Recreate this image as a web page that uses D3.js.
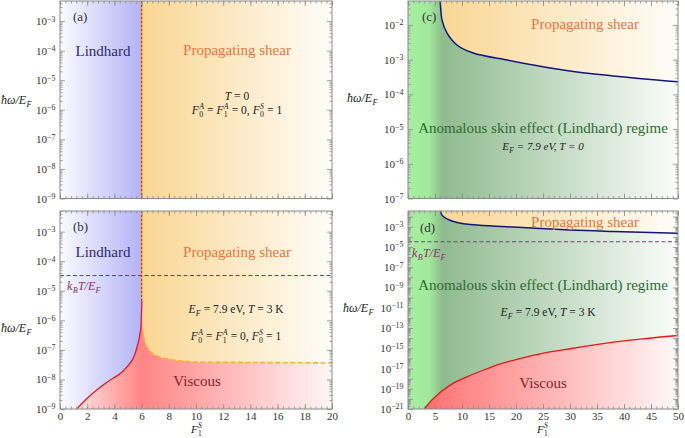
<!DOCTYPE html>
<html><head><meta charset="utf-8">
<script src="https://cdn.jsdelivr.net/npm/d3@7"></script>
<style>
body{margin:0;background:#fff}
svg{display:block}
text{white-space:pre}
</style>
</head><body>
<svg id="c" width="685" height="438"></svg>
<script>
// ================= DATA =================
const xMajorLeft = [0, 2, 4, 6, 8, 10, 12, 14, 16, 18, 20];
const xMajorRight = [0, 5, 10, 15, 20, 25, 30, 35, 40, 45, 50];
const yExpAB = [-3, -4, -5, -6, -7, -8, -9];
const yExpC = [-2, -3, -4, -5, -6, -7];
const yExpDLabeled = [-3, -5, -7, -9, -11, -13, -15, -17, -19, -21];
const yExpDUnlabeled = [-2, -4, -6, -8, -10, -12, -14, -16, -18, -20];

const shearOnsetF = 6;          // F1S where propagating shear starts
const kTOverEF = 3.27e-5;       // k_B T / E_F  (T = 3 K, E_F = 7.9 eV)

// panel (b): Lindhard / viscous boundary (red)
const bLindF = [1.23, 2.12, 3.35, 4.57, 5.31, 5.68, 5.92, 5.99, 6.02, 6.0];
const bLindW = [1.0e-9, 2.6e-9, 7.4e-9, 1.8e-8, 4.5e-8, 1.3e-7, 4.6e-7, 1.7e-6, 4.7e-6, 5e-3];
// panel (b): shear / viscous boundary (yellow dashed)
const bShearF = [6.0, 6.03, 6.09, 6.29, 6.78, 7.76, 9.47, 12.7, 16, 20];
const bShearW = [5e-3, 1e-5, 4.6e-7, 1.6e-7, 7.6e-8, 5.1e-8, 4.0e-8, 3.8e-8, 3.7e-8, 3.6e-8];
// panels (c),(d): shear / Lindhard boundary (blue)
const cdShearF = [5.95, 6.1, 6.29, 7.21, 9.06, 12.08, 18.3, 30, 38, 50];
const cdShearW = [0.05, 2.5e-2, 1.4e-2, 5.9e-3, 2.65e-3, 1.55e-3, 9.8e-4, 4.7e-4, 3.4e-4, 2.3e-4];
// panel (d): viscous / Lindhard boundary (red)
const dViscF = [3.0, 4.7, 7.8, 10.9, 14.0, 17.1, 20.2, 24.5, 30, 36.8, 43, 50];
const dViscW = [1e-21, 1.1e-20, 2.3e-19, 1.5e-18, 7e-18, 2.8e-17, 8.1e-17, 2.8e-16, 8.9e-16, 3.2e-15, 7.9e-15, 1.8e-14];

// ================= DRAWING =================
const FONT = '"Liberation Serif", serif';
const svg = d3.select('#c').attr('font-family', FONT);
const defs = svg.append('defs');
const AX = '#8c8c8c';

function grad(id, x, xmax, stops){
  const lg = defs.append('linearGradient').attr('id', id).attr('gradientUnits','userSpaceOnUse')
    .attr('x1', x(0)).attr('x2', x(xmax)).attr('y1', 0).attr('y2', 0);
  stops.forEach(([f, c]) => lg.append('stop').attr('offset', f / xmax).attr('stop-color', c));
  return `url(#${id})`;
}
function zip(a, b){ return a.map((v, i) => [v, b[i]]); }

function txt(g, x, y, s, size, color, anchor, italic){
  return g.append('text').attr('x', x).attr('y', y).attr('font-family', FONT).attr('font-size', size)
    .attr('fill', color).attr('text-anchor', anchor || 'start')
    .attr('font-style', italic ? 'italic' : 'normal').text(s);
}

function rich(g, x, y, tokens, opt){
  const size = opt.size || 12, color = opt.color || '#222';
  const grp = g.append('g');
  let cx = 0;
  tokens.forEach(tk => {
    const t = txt(grp, cx, 0, tk.s, size, color, 'start', tk.i);
    const w = t.node().getComputedTextLength();
    let ws = 0;
    if (tk.sub !== undefined){
      const s = txt(grp, cx + w + 0.3, size * 0.28, tk.sub, size * 0.68, color, 'start', tk.subi);
      ws = Math.max(ws, s.node().getComputedTextLength() + 0.6);
    }
    if (tk.sup !== undefined){
      const s = txt(grp, cx + w + 0.3, -size * 0.4, tk.sup, size * 0.68, color, 'start', tk.supi);
      ws = Math.max(ws, s.node().getComputedTextLength() + 0.6);
    }
    cx += w + ws;
  });
  const shift = opt.anchor === 'middle' ? -cx / 2 : opt.anchor === 'end' ? -cx : 0;
  grp.attr('transform', `translate(${x + shift},${y})`);
}

function panel(p){
  const x = d3.scaleLinear().domain([0, p.xmax]).range([p.x0, p.x1]);
  const y = d3.scaleLog().domain([p.ymin, p.ymax]).range([p.y1, p.y0]);
  const g = svg.append('g');
  defs.append('clipPath').attr('id', 'clip' + p.id).append('rect')
    .attr('x', p.x0).attr('y', p.y0).attr('width', p.x1 - p.x0).attr('height', p.y1 - p.y0);
  const plot = g.append('g').attr('clip-path', `url(#clip${p.id})`);
  const line = d3.line().x(d => x(d[0])).y(d => y(d[1]));
  const curve = d3.line().x(d => x(d[0])).y(d => y(d[1])).curve(d3.curveCatmullRom.alpha(0.5));
  const pt = (a, b) => `L${x(a)},${y(b)}`;
  return {x, y, g, plot, line, curve, pt, p};
}

function axes(P, xMajor, xMinorStep, yMajorExp, yMediumExp, showX){
  const p = P.p;
  const nMin = Math.round(p.xmax / xMinorStep);
  const xMinor = d3.range(0, nMin + 1).map(i => +(i * xMinorStep).toFixed(4));
  const lo = Math.floor(Math.log10(p.ymin)), hi = Math.ceil(Math.log10(p.ymax));
  const yMinor = [];
  for (let k = lo; k <= hi; k++) for (let m = 2; m <= 9; m++){
    const v = m * Math.pow(10, k);
    if (v >= p.ymin && v <= p.ymax) yMinor.push(v);
  }
  const yMajor = yMajorExp.map(e => Math.pow(10, e));
  const yMed = yMediumExp.map(e => Math.pow(10, e)).filter(v => v <= p.ymax);
  const ax = (gen, tr) => P.g.append('g').attr('transform', tr).call(gen)
    .call(s => s.select('.domain').remove())
    .call(s => s.selectAll('line').attr('stroke', AX).attr('stroke-width', 0.8))
    .attr('font-family', FONT).attr('font-size', 11)
    .call(s => s.selectAll('text').attr('font-family', FONT).attr('fill', '#333'));
  // x axes
  ax(d3.axisBottom(P.x).tickValues(xMajor).tickSize(-5).tickPadding(3)
      .tickFormat(showX ? d3.format('d') : () => ''), `translate(0,${p.y1})`);
  ax(d3.axisBottom(P.x).tickValues(xMinor).tickSize(-2.5).tickFormat(() => ''), `translate(0,${p.y1})`);
  ax(d3.axisTop(P.x).tickValues(xMajor).tickSize(-5).tickFormat(() => ''), `translate(0,${p.y0})`);
  ax(d3.axisTop(P.x).tickValues(xMinor).tickSize(-2.5).tickFormat(() => ''), `translate(0,${p.y0})`);
  // y axes
  const yl = ax(d3.axisLeft(P.y).tickValues(yMajor).tickSize(-5).tickPadding(4.5)
      .tickFormat(() => 'x'), `translate(${p.x0},0)`);
  yl.selectAll('.tick text').each(function(d){
    const e = Math.round(Math.log10(d));
    const t = d3.select(this); t.text('');
    t.append('tspan').text('10');
    t.append('tspan').attr('dy', '-0.45em').attr('font-size', '0.72em').text('\u2212' + (-e));
  });
  ax(d3.axisLeft(P.y).tickValues(yMed).tickSize(-5).tickFormat(() => ''), `translate(${p.x0},0)`);
  ax(d3.axisLeft(P.y).tickValues(yMinor).tickSize(-2.5).tickFormat(() => ''), `translate(${p.x0},0)`);
  ax(d3.axisRight(P.y).tickValues(yMajor.concat(yMed)).tickSize(-5).tickFormat(() => ''), `translate(${p.x1},0)`);
  ax(d3.axisRight(P.y).tickValues(yMinor).tickSize(-2.5).tickFormat(() => ''), `translate(${p.x1},0)`);
  P.g.append('rect').attr('x', p.x0).attr('y', p.y0).attr('width', p.x1 - p.x0).attr('height', p.y1 - p.y0)
    .attr('fill', 'none').attr('stroke', AX).attr('stroke-width', 1);
}

const COL = {
  lind: '#2b2b70', shear: '#e8763e', visc: '#8a1f2a', anom: '#2f6a31', kt: '#8b2b72',
  blueA: '#fafaff', blueB: '#b3b3f7', orA: '#f9d693', orB: '#fffdf8',
  redMid: '#ff8585', green1: '#a6f0a0', green2: '#8fbb8f'
};
const hwEF = [{s:'\u0127\u03c9/', i:1}, {s:'E', i:1, sub:'F', subi:1}];
const FA = [{s:'F', i:1, sub:'0', sup:'A', supi:1}, {s:' = '}, {s:'F', i:1, sub:'1', sup:'A', supi:1},
            {s:' = 0, '}, {s:'F', i:1, sub:'0', sup:'S', supi:1}, {s:' = 1'}];
const kT = [{s:'k', i:1, sub:'B', subi:1}, {s:'T/', i:1}, {s:'E', i:1, sub:'F', subi:1}];
const F1S = [{s:'F', i:1, sub:'1', sup:'S', supi:1}];

// ---------- panel (a) ----------
{
  const P = panel({id:'a', x0:60, x1:332, y0:1, y1:198.5, xmax:20, ymin:1e-9, ymax:Math.pow(10, -2.32)});
  const {x, y, plot} = P;
  const gb = grad('ga_b', x, 20, [[0, COL.blueA], [shearOnsetF, COL.blueB]]);
  const go = grad('ga_o', x, 20, [[shearOnsetF, COL.orA], [20, COL.orB]]);
  plot.append('rect').attr('x', x(0)).attr('y', P.p.y0).attr('width', x(shearOnsetF) - x(0)).attr('height', P.p.y1 - P.p.y0).attr('fill', gb);
  plot.append('rect').attr('x', x(shearOnsetF)).attr('y', P.p.y0).attr('width', x(20) - x(shearOnsetF)).attr('height', P.p.y1 - P.p.y0).attr('fill', go);
  plot.append('line').attr('x1', x(shearOnsetF)).attr('x2', x(shearOnsetF)).attr('y1', P.p.y0).attr('y2', P.p.y1)
    .attr('stroke', '#f2b430').attr('stroke-width', 1.8);
  plot.append('line').attr('x1', x(shearOnsetF)).attr('x2', x(shearOnsetF)).attr('y1', P.p.y0).attr('y2', P.p.y1)
    .attr('stroke', '#e41a1a').attr('stroke-width', 1.1).attr('stroke-dasharray', '2,2');
  axes(P, xMajorLeft, 0.4, yExpAB, [], false);
  const g = P.g;
  txt(g, 73, 21, '(a)', 13, '#333');
  txt(g, 103, 56, 'Lindhard', 15, COL.lind, 'middle');
  txt(g, 237, 55, 'Propagating shear', 15, COL.shear, 'middle');
  rich(g, 237, 100, [{s:'T', i:1}, {s:' = 0'}], {size:11.5, anchor:'middle'});
  rich(g, 237, 114, FA, {size:11.5, anchor:'middle'});
  rich(g, 1, 104, hwEF, {size:12});
}

// ---------- panel (b) ----------
{
  const P = panel({id:'b', x0:60, x1:332, y0:211, y1:409, xmax:20, ymin:1e-9, ymax:5e-3});
  const {x, y, plot, line, curve, pt} = P;
  const gv = grad('gb_v', x, 20, [[0, '#ffffff'], [1.2, '#ffe4e4'], [shearOnsetF, COL.redMid], [20, '#fff6f6']]);
  const gb = grad('gb_b', x, 20, [[0, COL.blueA], [shearOnsetF, COL.blueB]]);
  const go = grad('gb_o', x, 20, [[shearOnsetF, COL.orA], [20, COL.orB]]);
  plot.append('rect').attr('x', P.p.x0).attr('y', P.p.y0).attr('width', P.p.x1 - P.p.x0).attr('height', P.p.y1 - P.p.y0).attr('fill', gv);
  const lind = zip(bLindF, bLindW);
  plot.append('path').attr('d', curve(lind) + pt(shearOnsetF, 1) + pt(0, 1) + pt(0, 1e-10) + pt(bLindF[0], 1e-10) + 'Z').attr('fill', gb);
  const sh = zip(bShearF, bShearW);
  plot.append('path').attr('d', curve(sh) + pt(20, 1) + pt(shearOnsetF, 1) + 'Z').attr('fill', go);
  // lines
  plot.append('path').attr('d', curve(sh.slice(2))).attr('fill', 'none').attr('stroke', '#f2b430')
    .attr('stroke-width', 1.6).attr('stroke-dasharray', '5,2.5');
  const vTop = [[shearOnsetF, 1], [shearOnsetF, bLindW[bLindW.length - 2]]];
  plot.append('path').attr('d', line(vTop)).attr('stroke', '#f2b430').attr('stroke-width', 1.8);
  plot.append('path').attr('d', line(vTop)).attr('stroke', '#e41a1a').attr('stroke-width', 1.1).attr('stroke-dasharray', '2,2');
  plot.append('path').attr('d', curve(lind.slice(0, -1))).attr('fill', 'none').attr('stroke', '#ee1515').attr('stroke-width', 1.3);
  plot.append('line').attr('x1', x(0)).attr('x2', x(20)).attr('y1', y(kTOverEF)).attr('y2', y(kTOverEF))
    .attr('stroke', '#7b3066').attr('stroke-width', 1).attr('stroke-dasharray', '4,2.5');
  axes(P, xMajorLeft, 0.4, yExpAB, [], true);
  const g = P.g;
  txt(g, 73, 231, '(b)', 13, '#333');
  txt(g, 103, 257, 'Lindhard', 15, COL.lind, 'middle');
  txt(g, 237, 257, 'Propagating shear', 15, COL.shear, 'middle');
  txt(g, 197, 386, 'Viscous', 15, COL.visc, 'middle');
  rich(g, 67, 290, kT, {size:12, color:COL.kt});
  rich(g, 236, 313, [{s:'E', i:1, sub:'F', subi:1}, {s:' = 7.9 eV, '}, {s:'T', i:1}, {s:' = 3 K'}], {size:11.5, anchor:'middle'});
  rich(g, 236, 340, FA, {size:11.5, anchor:'middle'});
  rich(g, 1, 332, hwEF, {size:12});
  rich(g, 191, 432.5, F1S, {size:11});
}

// ---------- panel (c) ----------
{
  const P = panel({id:'c', x0:408, x1:678, y0:1, y1:198.5, xmax:50, ymin:1e-7, ymax:Math.pow(10, -1.31)});
  const {x, y, plot, curve, pt} = P;
  const gg = grad('gc_g', x, 50, [[0, COL.green1], [4.0, '#a2e89c'], [6.3, COL.green2], [50, '#fbfdfb']]);
  const go = grad('gc_o', x, 50, [[shearOnsetF, COL.orA], [50, COL.orB]]);
  plot.append('rect').attr('x', P.p.x0).attr('y', P.p.y0).attr('width', P.p.x1 - P.p.x0).attr('height', P.p.y1 - P.p.y0).attr('fill', gg);
  const sh = zip(cdShearF, cdShearW);
  plot.append('path').attr('d', curve(sh) + pt(50, 1) + pt(cdShearF[0], 1) + 'Z').attr('fill', go);
  plot.append('path').attr('d', curve(sh)).attr('fill', 'none').attr('stroke', '#14147a').attr('stroke-width', 1.5);
  axes(P, xMajorRight, 1, yExpC, [], false);
  const g = P.g;
  txt(g, 422, 21, '(c)', 13, '#333');
  txt(g, 585, 29, 'Propagating shear', 15, COL.shear, 'middle');
  txt(g, 543, 133, 'Anomalous skin effect (Lindhard) regime', 15, COL.anom, 'middle');
  rich(g, 543, 150, [{s:'E', i:1, sub:'F', subi:1}, {s:' = 7.9 eV, ', i:1}, {s:'T', i:1}, {s:' = 0', i:1}], {size:11, anchor:'middle'});
  rich(g, 347, 102, hwEF, {size:12});
}

// ---------- panel (d) ----------
{
  const P = panel({id:'d', x0:408, x1:678, y0:211, y1:409, xmax:50, ymin:1e-21, ymax:Math.pow(10, -1.45)});
  const {x, y, plot, curve, pt} = P;
  const gg = grad('gd_g', x, 50, [[0, COL.green1], [4.0, '#a2e89c'], [6.3, COL.green2], [50, '#fbfdfb']]);
  const go = grad('gd_o', x, 50, [[shearOnsetF, COL.orA], [50, COL.orB]]);
  const gr = grad('gd_r', x, 50, [[3, '#ff6e6e'], [8, '#ff8080'], [50, '#fff8f8']]);
  plot.append('rect').attr('x', P.p.x0).attr('y', P.p.y0).attr('width', P.p.x1 - P.p.x0).attr('height', P.p.y1 - P.p.y0).attr('fill', gg);
  const sh = zip(cdShearF, cdShearW);
  plot.append('path').attr('d', curve(sh) + pt(50, 1) + pt(cdShearF[0], 1) + 'Z').attr('fill', go);
  const vc = zip(dViscF, dViscW);
  plot.append('path').attr('d', curve(vc) + pt(50, 1e-23) + pt(dViscF[0], 1e-23) + 'Z').attr('fill', gr);
  plot.append('path').attr('d', curve(sh)).attr('fill', 'none').attr('stroke', '#14147a').attr('stroke-width', 1.5);
  plot.append('path').attr('d', curve(vc)).attr('fill', 'none').attr('stroke', '#ee1515').attr('stroke-width', 1.3);
  plot.append('line').attr('x1', x(0)).attr('x2', x(50)).attr('y1', y(kTOverEF)).attr('y2', y(kTOverEF))
    .attr('stroke', '#8a3a72').attr('stroke-width', 1).attr('stroke-dasharray', '4,2.5');
  axes(P, xMajorRight, 1, yExpDLabeled, yExpDUnlabeled, true);
  const g = P.g;
  txt(g, 420, 232, '(d)', 13, '#333');
  txt(g, 585, 227, 'Propagating shear', 15, COL.shear, 'middle');
  txt(g, 543, 290, 'Anomalous skin effect (Lindhard) regime', 15, COL.anom, 'middle');
  txt(g, 543, 388, 'Viscous', 15, COL.visc, 'middle');
  rich(g, 412, 257, kT, {size:12, color:COL.kt});
  rich(g, 548, 316, [{s:'E', i:1, sub:'F', subi:1}, {s:' = 7.9 eV, '}, {s:'T', i:1}, {s:' = 3 K'}], {size:11.5, anchor:'middle'});
  rich(g, 343, 312, hwEF, {size:12});
  rich(g, 537, 432.5, F1S, {size:11});
}
</script>
</body></html>
